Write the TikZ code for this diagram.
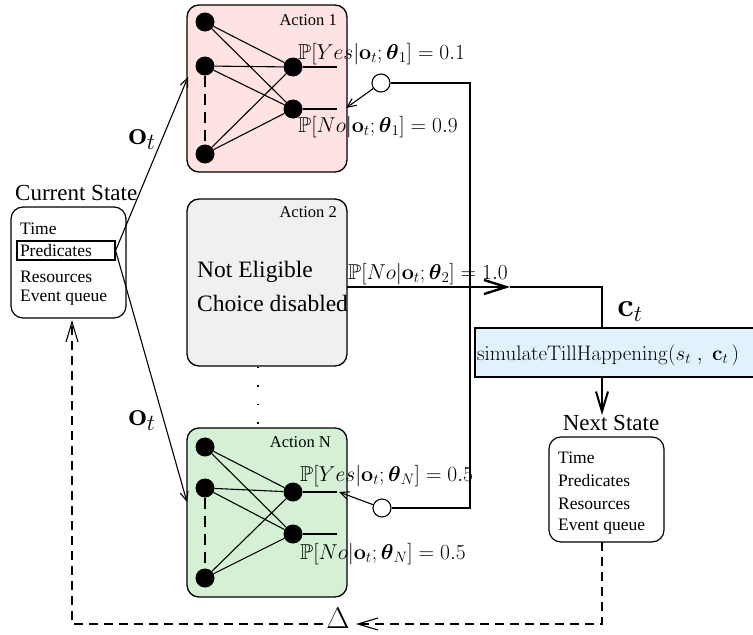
\RequirePackage{fix-cm}
\documentclass[tikz,border=0pt]{standalone}
\usepackage{amsmath,amssymb}
\usepackage[no-math]{fontspec}
\setmainfont{Liberation Serif}
\DeclareSymbolFont{operators}{OT1}{cmr}{m}{n}
\SetSymbolFont{operators}{bold}{OT1}{cmr}{bx}{n}
\usetikzlibrary{arrows.meta}
\definecolor{pinkfill}{RGB}{255,226,226}
\definecolor{grayfill}{RGB}{240,240,240}
\definecolor{greenfill}{RGB}{214,240,214}
\definecolor{bluefill}{RGB}{226,242,252}
\begin{document}
\begin{tikzpicture}[x=1pt,y=-1pt,
  every node/.style={inner sep=0pt},
  actbox/.style={draw, line width=1.3pt, rounded corners=12pt, minimum width=160pt},
  neuron/.style={circle, fill=black, minimum size=19pt, inner sep=0pt},
  wire/.style={line width=1.1pt},
  statebox/.style={draw, line width=1.2pt, rounded corners=12pt},
  stxt/.style={anchor=west, font=\fontsize{17.5}{20}\selectfont},
  acttitle/.style={anchor=east, font=\fontsize{16.5}{19}\selectfont},
  plabel/.style={anchor=west, font=\fontsize{21.5}{26}\selectfont},
  biglabel/.style={font=\fontsize{33}{36}\selectfont},
  ring/.style={circle, draw, line width=1.1pt, minimum size=18pt},
  smallarrow/.style={line width=1.1pt, -{Straight Barb[length=9pt,width=8pt]}},
  bigarrow/.style={line width=1.2pt, -{Straight Barb[length=22pt,width=14pt,line width=2.4pt]}},
  dasharrow/.style={line width=1.1pt, dash pattern=on 9pt off 6pt, -{Straight Barb[length=20pt,width=12pt,line width=1.1pt]}},
]
\useasboundingbox (0,0) rectangle (753,635);
\clip (0,0) rectangle (753,635);

% ---------- Current state ----------
\node[statebox, minimum width=115pt, minimum height=111pt] (cs) at (68.5,262.5) {};
\node[anchor=west, font=\fontsize{23}{26}\selectfont] (cslabel) at (15,193) {Current State};
\node[stxt] (cs1) at (20,229) {Time};
\node[draw, line width=1.2pt, text width=92pt, align=left, inner xsep=3pt, minimum height=19pt,
      font=\fontsize{17.5}{20}\selectfont] (pred) at (66,250.5) {Predicates};
\node[stxt] (cs3) at (20,277) {Resources};
\node[stxt] (cs4) at (20,298) {Event queue};

% ---------- Action 1 ----------
\node[actbox, fill=pinkfill, minimum height=167pt] (a1) at (267,88.5) {};
\node[acttitle] (a1t) at (337,20) {Action 1};
\node[neuron] (a1i1) at (205,22) {};
\node[neuron] (a1i2) at (205,66) {};
\node[neuron] (a1i3) at (205,154) {};
\node[neuron] (a1o1) at (293,67) {};
\node[neuron] (a1o2) at (293,109) {};
\foreach \i in {1,2,3}{\foreach \o in {1,2}{\draw[wire] (a1i\i) -- (a1o\o);}}
\draw[wire, dash pattern=on 11pt off 7pt] (a1i2) -- (a1i3);
\coordinate (a1e1) at (337,67);
\coordinate (a1e2) at (337,109);
\draw[wire] (a1o1) -- (a1e1);
\draw[wire] (a1o2) -- (a1e2);
\node[plabel] (p1y) at (298,54) {$\mathbb{P}[Yes|\mathbf{o}_t;\boldsymbol{\theta}_1] = 0.1$};
\node[plabel] (p1n) at (298,127) {$\mathbb{P}[No|\mathbf{o}_t;\boldsymbol{\theta}_1] = 0.9$};

% ---------- Action 2 ----------
\node[actbox, fill=grayfill, minimum height=167pt] (a2) at (267,282.5) {};
\node[acttitle] (a2t) at (337,212) {Action 2};
\node[anchor=west, font=\fontsize{23.5}{26}\selectfont] (ne) at (197,272) {Not Eligible};
\node[anchor=west, font=\fontsize{23.5}{26}\selectfont] (cd) at (197,303) {Choice disabled};
\node[plabel] (p2n) at (348,274) {$\mathbb{P}[No|\mathbf{o}_t;\boldsymbol{\theta}_2] = 1.0$};

% ---------- Action N ----------
\node[actbox, fill=greenfill, minimum height=169pt] (aN) at (267,512.5) {};
\node[acttitle] (aNt) at (331,442) {Action N};
\node[neuron] (aNi1) at (205,447) {};
\node[neuron] (aNi2) at (205,488) {};
\node[neuron] (aNi3) at (205,578) {};
\node[neuron] (aNo1) at (293,492) {};
\node[neuron] (aNo2) at (293,534) {};
\foreach \i in {1,2,3}{\foreach \o in {1,2}{\draw[wire] (aNi\i) -- (aNo\o);}}
\draw[wire, dash pattern=on 11pt off 7pt] (aNi2) -- (aNi3);
\coordinate (aNe1) at (337,492);
\coordinate (aNe2) at (337,534);
\draw[wire] (aNo1) -- (aNe1);
\draw[wire] (aNo2) -- (aNe2);
\node[plabel] (pNy) at (300,476) {$\mathbb{P}[Yes|\mathbf{o}_t;\boldsymbol{\theta}_N] = 0.5$};
\node[plabel] (pNn) at (300,554) {$\mathbb{P}[No|\mathbf{o}_t;\boldsymbol{\theta}_N] = 0.5$};

% dotted between Action 2 and Action N
\draw[line width=1.3pt, dash pattern=on 1.5pt off 17pt] (a2.south -| 258,0) -- (aN.north -| 258,0);

% ---------- inputs from current state ----------
\coordinate (a1in) at (188,77);
\coordinate (aNin) at (187,502);
\draw[smallarrow] (pred.east) -- (a1in);
\draw[smallarrow] (pred.east) -- (aNin);
\node[biglabel] (ot1) at (142,140) {$\mathbf{o}_t$};
\node[biglabel] (ot2) at (142,421) {$\mathbf{o}_t$};

% ---------- selector circles ----------
\node[ring] (c1) at (381,83) {};
\node[ring] (cN) at (382,508) {};
\coordinate (k1) at (470,83);
\coordinate (k2) at (470,508);
\draw[wire] (c1) -- (k1) -- (k2) -- (cN);
\coordinate (c1tip) at (346,108);
\coordinate (cNtip) at (339,492);
\draw[smallarrow] (c1) -- (c1tip);
\draw[smallarrow] (cN) -- (cNtip);

% ---------- Action 2 output to simulator ----------
\node[draw, line width=1.2pt, fill=bluefill, minimum width=285pt, minimum height=49pt] (sim) at (617.5,352.5) {};
\node[anchor=west, font=\fontsize{21}{24}\selectfont] (simt) at (477,355) {$\mathrm{simulateTillHappening}(s_{t}\;,\;\mathbf{c}_{t}\,)$};
\coordinate (a2out) at (347,287);
\coordinate (a2mid) at (510,287);
\coordinate (a2cor) at (602,287);
\coordinate (simin) at (602,328);
\draw[bigarrow] (a2out) -- (a2mid);
\draw[wire] (a2mid) -- (a2cor) -- (simin);
\node[biglabel] (ct) at (630,312) {$\mathbf{c}_t$};

% ---------- Next state ----------
\coordinate (simout) at (602,377);
\coordinate (nsin) at (602,415);
\draw[line width=1.2pt, -{Straight Barb[length=20pt,width=12pt,line width=2pt]}] (simout) -- (nsin);
\node[font=\fontsize{23}{26}\selectfont] (nslabel) at (611,423) {Next State};
\node[statebox, minimum width=115pt, minimum height=105pt] (ns) at (606.5,489.5) {};
\node[stxt] (ns1) at (558,458) {Time};
\node[stxt] (ns2) at (558,481) {Predicates};
\node[stxt] (ns3) at (558,504) {Resources};
\node[stxt] (ns4) at (558,527) {Event queue};

% ---------- feedback Delta ----------
\node[font=\fontsize{30}{34}\selectfont] (delta) at (338,618) {$\Delta$};
\coordinate (nsout) at (602,542);
\coordinate (dR) at (356,624);
\coordinate (dL) at (323,624);
\coordinate (csin) at (72,320);
\draw[dasharrow] (nsout) |- (dR);
\draw[dasharrow] (dL) -| (csin);
\end{tikzpicture}
\end{document}
